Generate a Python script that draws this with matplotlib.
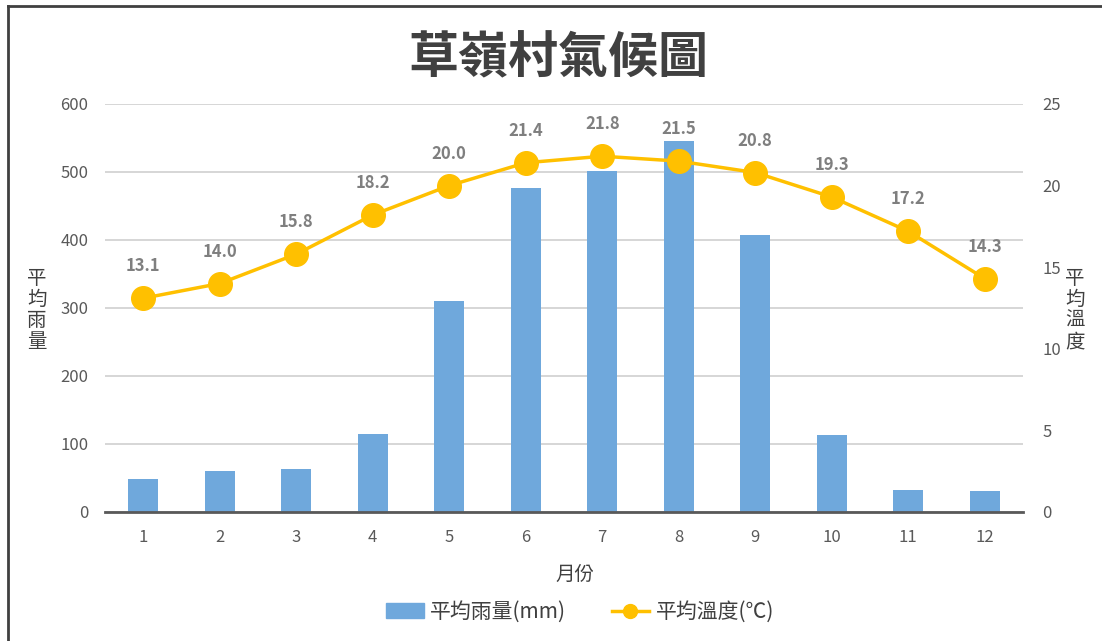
import matplotlib
matplotlib.use('Agg')

import matplotlib.pyplot as plt
from matplotlib.lines import Line2D
from matplotlib.patches import Patch

plt.rcParams['font.family'] = ['Noto Sans CJK TC', 'DejaVu Sans']

# Monthly climate data
months = [1, 2, 3, 4, 5, 6, 7, 8, 9, 10, 11, 12]
rain = [49, 60, 63, 115, 310, 476, 501, 545, 407, 113, 32, 31]
temp = [13.1, 14.0, 15.8, 18.2, 20.0, 21.4, 21.8, 21.5, 20.8, 19.3, 17.2, 14.3]

bar_color = '#6FA8DC'
line_color = '#FFC000'
text_dark = '#404040'
tick_gray = '#595959'

fig = plt.figure(figsize=(11.02, 6.41), dpi=100)
ax = fig.add_axes([105 / 1102, 1 - 512 / 641, (1023 - 105) / 1102, (512 - 104) / 641])
ax2 = ax.twinx()

# Rainfall bars
ax.bar(months, rain, width=0.39, color=bar_color, zorder=2)
ax.set_xlim(0.5, 12.5)
ax.set_ylim(0, 600)
ax.set_yticks(range(0, 601, 100))
ax.set_xticks(months)
ax.grid(axis='y', color='#D0D0D0', linewidth=1.2, zorder=0)
ax.set_axisbelow(True)
for s in ['top', 'right', 'left']:
    ax.spines[s].set_visible(False)
ax.spines['bottom'].set_color('#595959')
ax.spines['bottom'].set_linewidth(2)
ax.tick_params(axis='both', length=0, colors=tick_gray, labelsize=12, pad=12)

# Temperature line
ax2.plot(months, temp, color=line_color, linewidth=2.5, marker='o', markersize=17, zorder=4)
ax2.set_ylim(0, 25)
ax2.set_yticks(range(0, 26, 5))
for s in ax2.spines.values():
    s.set_visible(False)
ax2.tick_params(axis='y', length=0, colors=tick_gray, labelsize=12, pad=14)
for m, t in zip(months, temp):
    ax2.annotate(f'{t:.1f}', (m, t), xytext=(0, 23), textcoords='offset points',
                 ha='center', va='center', fontsize=12, fontweight='bold', color='#7F7F7F')

# Titles and axis labels
fig.text(558 / 1102, 1 - 59 / 641, '草嶺村氣候圖', ha='center', va='center',
         fontsize=36, fontweight='bold', color=text_dark)
fig.text(37 / 1102, 1 - 310 / 641, '平\n均\n雨\n量', ha='center', va='center',
         fontsize=14, fontweight='medium', color=text_dark, linespacing=1.0)
fig.text(1075 / 1102, 1 - 310 / 641, '平\n均\n溫\n度', ha='center', va='center',
         fontsize=14, fontweight='medium', color=text_dark, linespacing=1.0)
fig.text(575 / 1102, 1 - 575 / 641, '月份', ha='center', va='center',
         fontsize=14, color=text_dark)

# Legend
handles = [Patch(color=bar_color),
           Line2D([0], [0], color=line_color, linewidth=2.5, marker='o', markersize=10)]
fig.legend(handles, ['平均雨量(mm)', '平均溫度(℃)'], loc='center', ncol=2,
           bbox_to_anchor=(580 / 1102, 1 - 612 / 641), frameon=False,
           fontsize=15, labelcolor=text_dark, handlelength=1.8, columnspacing=2.2,
           handletextpad=0.3)

# Frame lines at top and left edge
fig.add_artist(Line2D([8 / 1102, 1], [1 - 6 / 641, 1 - 6 / 641], color='#404040', linewidth=2))
fig.add_artist(Line2D([8 / 1102, 8 / 1102], [0, 1 - 6 / 641], color='#404040', linewidth=2))

plt.savefig('out.png', dpi=100)
